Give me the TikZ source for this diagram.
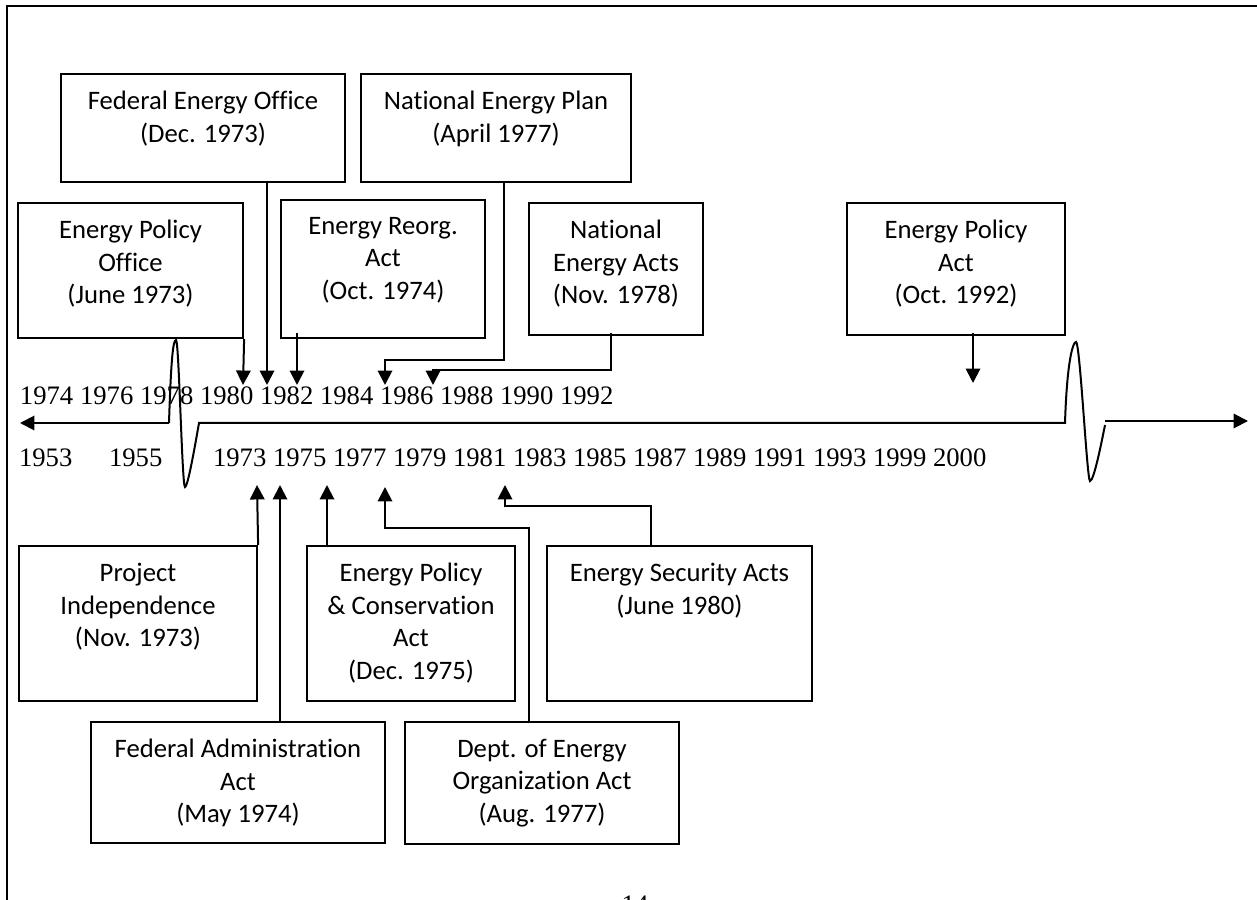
\documentclass[tikz,border=0pt]{standalone}
\usepackage{fontspec}
\setmainfont{Liberation Serif}
\newfontfamily\calibri[Ligatures=NoCommon]{Carlito}
\usetikzlibrary{arrows.meta,calc}

\begin{document}
\begin{tikzpicture}[x=0.45pt,y=-0.45pt,line width=0.9pt,>={Triangle[length=6.5pt,width=6.5pt]},
  evt/.style 2 args={draw,line width=1pt,minimum width=#1*0.45pt,minimum height=#2*0.45pt,inner sep=0pt},
  lbl/.style={anchor=north,yshift=-7.8pt,align=center,inner sep=0pt,font=\calibri\fontsize{12}{14.6}\selectfont},
  yrs/.style={anchor=base west,inner sep=0pt,font=\fontsize{12}{14}\selectfont}]
  \useasboundingbox (0,0) rectangle (1257,900);
  \clip (0,0) rectangle (1257,900);
  % marco
  \draw[line width=1pt] (7,900) -- (7,6) -- (1257,6);
  % cajas de arriba
  \node[evt={225}{135},label={[lbl]north:{Energy Policy\\Office\\(June 1973)}}] (epo) at (130.5,270.5) {};
  \node[evt={284}{108},label={[lbl]north:{Federal Energy Office\\(Dec. 1973)}}] (feo) at (203,128) {};
  \node[evt={204}{138},label={[lbl]north:{Energy Reorg.\\Act\\(Oct. 1974)}}] (era) at (383,269) {};
  \node[evt={270}{108},label={[lbl]north:{National Energy Plan\\(April 1977)}}] (nep) at (496,128) {};
  \node[evt={174}{132},label={[lbl]north:{National\\Energy Acts\\(Nov. 1978)}}] (nea) at (616,269) {};
  \node[evt={218}{132},label={[lbl]north:{Energy Policy\\Act\\(Oct. 1992)}}] (epa) at (956,269) {};
  % cajas de abajo
  \node[evt={238}{155},label={[lbl]north:{Project\\Independence\\(Nov. 1973)}}] (pi) at (138,623.5) {};
  \node[evt={294}{121},label={[lbl]north:{Federal Administration\\Act\\(May 1974)}}] (faa) at (238,782.5) {};
  \node[evt={208}{155},label={[lbl]north:{Energy Policy\\\& Conservation\\Act\\(Dec. 1975)}}] (epca) at (411,623.5) {};
  \node[evt={274}{122},label={[lbl]north:{Dept. of Energy\\Organization Act\\(Aug. 1977)}}] (doe) at (542,783) {};
  \node[evt={265}{155},label={[lbl]north:{Energy Security Acts\\(June 1980)}}] (esa) at (679.5,623.5) {};
  % anos
  \node[yrs] (upper) at (19,405) {1974 1976 1978 1980 1982 1984 1986 1988 1990 1992};
  \node[yrs] (low1) at (18,467) {1953};
  \node[yrs] (low2) at (108,467) {1955};
  \node[yrs] (low3) at (212,467) {1973 1975 1977 1979 1981 1983 1985 1987 1989 1991 1993 1999 2000};
  \node[yrs,anchor=base] (pg) at (635,913) {14};
  % eje con cortes
  \draw[->] (169,423) -- (20,423);
  \draw (169,423) .. controls (171,360) and (173,340) .. (176,340)
        .. controls (179,340) and (182,487) .. (185,487)
        .. controls (188,487) and (196,440) .. (199,423) -- (1065,423)
        .. controls (1067,360) and (1073,342) .. (1076,342)
        .. controls (1080,342) and (1087,481) .. (1090,481)
        .. controls (1094,481) and (1102,440) .. (1105,425);
  \draw[->] (1105,421) -- (1248,421);
  % puntas
  \coordinate (t80) at (243,385);
  \coordinate (t82a) at (267,385);
  \coordinate (t82b) at (297,385);
  \coordinate (t86a) at (385,385);
  \coordinate (t86b) at (433,385);
  \coordinate (t92) at (973,383);
  \coordinate (b73) at (257,485);
  \coordinate (b75a) at (280,485);
  \coordinate (b75b) at (327,485);
  \coordinate (b77) at (385,487);
  \coordinate (b81) at (505,485);
  % flechas
  \draw[->] (epo.south east) -- (t80);
  \draw[->] (feo.south -| t82a) -- (t82a);
  \draw[->] ($(era.south -| t82b)+(0,-6)$) -- (t82b);
  \draw[->] ($(nep.south)+(8,0)$) -- ++(0,177) -| (t86a);
  \draw[->] ($(nea.south)+(-5,-3)$) -- ++(0,37) -| (t86b);
  \draw[->] ($(epa.south)+(17,-3)$) -- (t92);
  \draw[->] (pi.north east) -- (b73);
  \draw[->] (faa.north -| b75a) -- (b75a);
  \draw[->] (epca.north -| b75b) -- (b75b);
  \draw[->] ($(doe.north)+(-13,0)$) -- ++(0,-193) -| (b77);
  \draw[->] ($(esa.north)+(-28.5,0)$) -- ++(0,-39) -| (b81);
\end{tikzpicture}
\end{document}
